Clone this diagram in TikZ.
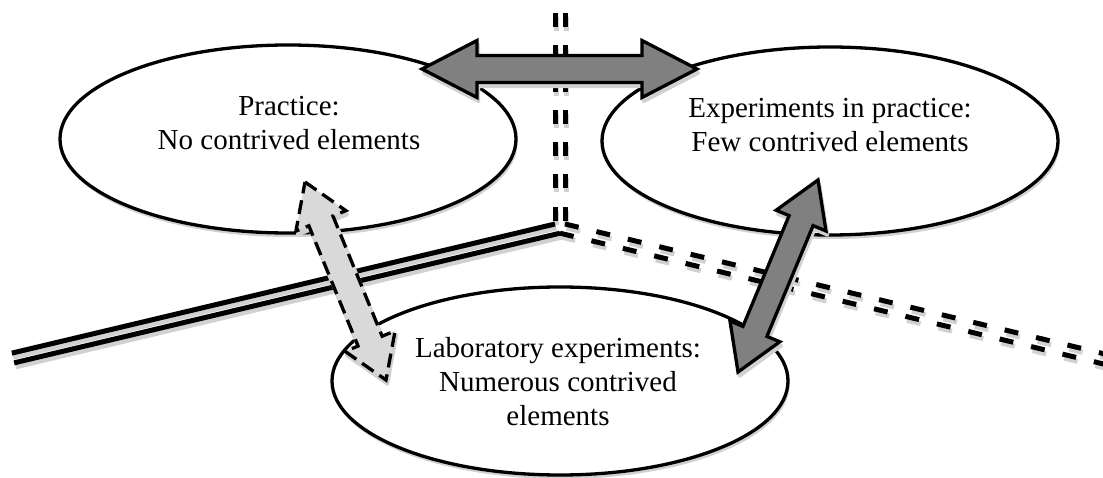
\documentclass[tikz,border=0pt]{standalone}
\usepackage{fontspec}
\setmainfont{Liberation Serif}
\usetikzlibrary{calc}
\definecolor{shadowgray}{gray}{0.82}
\definecolor{darkfill}{gray}{0.5}
\definecolor{lightfill}{gray}{0.85}
% double headed block arrow: style, tip, tip, head length, head half width, shaft half width
\newcommand \mydblarrow[6]
{
\draw[#1] (#2) -- ($(#2)!#4!(#3)!#5!90:(#3)$) -- ($(#2)!#4!(#3)!#6!90:(#3)$)
  -- ($(#3)!#4!(#2)!#6!-90:(#2)$) -- ($(#3)!#4!(#2)!#5!-90:(#2)$) -- (#3)
  -- ($(#3)!#4!(#2)!#5!90:(#2)$) -- ($(#3)!#4!(#2)!#6!90:(#2)$)
  -- ($(#2)!#4!(#3)!#6!-90:(#3)$) -- ($(#2)!#4!(#3)!#5!-90:(#3)$) -- cycle;
}
\tikzset{
  track/.style={line width=5pt},
  gaps/.style={dash pattern=on 14pt off 18.3pt},
  ring/.style={line width=3.3pt},
  castshadow/.style={draw=shadowgray, fill=shadowgray, line width=3.3pt,
    transform canvas={xshift=1.5pt, yshift=-4pt}},
  blockarrow/.style={draw=black, line width=3.3pt, line join=miter},
  caption/.style={font=\fontsize{29}{34}\selectfont, align=center}
}

\begin{document}
\begin{tikzpicture}[x=1pt, y=-1pt, line join=round]
\useasboundingbox (0,0) rectangle (1103,478);
% the three tracks meeting at J
\coordinate (J)  at (560,228);
\coordinate (L)  at (13,358);
\coordinate (R)  at (1110,360.4);
\coordinate (A)  at (555,224);
\coordinate (B)  at (565,224);
\coordinate (C)  at (560,233.2);
\coordinate (TA) at (555,-19.3);
\coordinate (TB) at (565,-19.3);
\coordinate (Lu) at ($(L)!5pt!90:(J)$);
\coordinate (Ll) at ($(L)!5pt!-90:(J)$);
\coordinate (Ru) at ($(R)!5pt!-90:(J)$);
\coordinate (Rl) at ($(R)!5pt!90:(J)$);
\foreach \ink/\dx/\dy in {shadowgray/1.5/-4, black/0/0}
{
\begin{scope}[transform canvas={xshift=\dx pt, yshift=\dy pt}]
\draw[track, \ink] (Lu)--(A);
\draw[track, \ink] (Ll)--(C);
\draw[track, \ink, gaps] (TA)--(A);
\draw[track, \ink, gaps] (TB)--(B);
\draw[track, \ink, gaps] (B)--(Ru);
\draw[track, \ink, gaps] (C)--(Rl);
\end{scope}
}
% ellipses
\coordinate (prac) at (288,139);
\coordinate (expr) at (830,141);
\coordinate (lab)  at (560,381);
\foreach \c in {prac, expr, lab}
{
\fill[shadowgray, transform canvas={xshift=1.5pt, yshift=-4pt}] (\c) ellipse (228pt and 94pt);
\draw[ring, fill=white] (\c) ellipse (228pt and 94pt);
}
% arrows between the ellipses
\coordinate (t1) at (422,69);
\coordinate (t2) at (697,69);
\coordinate (u1) at (305,182);
\coordinate (d1) at (386,380);
\coordinate (u2) at (818,180);
\coordinate (d2) at (738,372);
\mydblarrow{castshadow}{t1}{t2}{55pt}{28.5pt}{13.5pt}
\mydblarrow{blockarrow, fill=darkfill}{t1}{t2}{55pt}{28.5pt}{13.5pt}
\mydblarrow{castshadow}{u1}{d1}{42pt}{27pt}{13pt}
\mydblarrow{blockarrow, fill=lightfill, dash pattern=on 14pt off 7pt}{u1}{d1}{42pt}{27pt}{13pt}
\mydblarrow{castshadow}{u2}{d2}{44pt}{27pt}{13pt}
\mydblarrow{blockarrow, fill=darkfill}{u2}{d2}{44pt}{27pt}{13pt}
% texts
\node[caption] (prac text) at (289,123) {Practice:\\No contrived elements};
\node[caption] (expr text) at (830,125) {Experiments in practice:\\Few contrived elements};
\node[caption] (lab text)  at (558,382) {Laboratory experiments:\\Numerous contrived\\elements};
\end{tikzpicture}
\end{document}
